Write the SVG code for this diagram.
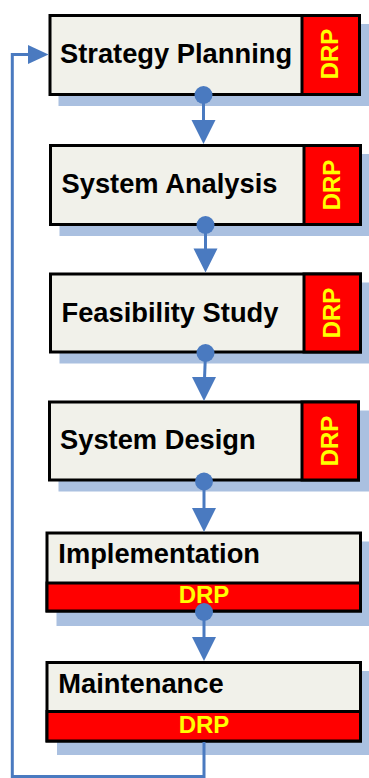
<svg xmlns="http://www.w3.org/2000/svg" width="369" height="778" viewBox="0 0 369 778">
  <defs>
    <style>
      .shadow { fill: #aac0e0; }
      .box { fill: #f1f1ea; stroke: #000; stroke-width: 3; }
      .drp { fill: #ff0000; stroke: #000; stroke-width: 3; }
      .label { font-family: "Liberation Sans", Arial, sans-serif; font-weight: bold; font-size: 27.3px; fill: #000; }
      .tag { font-family: "Liberation Sans", Arial, sans-serif; font-weight: bold; font-size: 24px; fill: #ffff00; text-anchor: middle; }
      .wire { fill: none; stroke: #4a7ac0; stroke-width: 3; }
      .head { fill: #4a7ac0; }
    </style>
  </defs>

  <!-- Stage 1 -->
  <g id="strategy-planning">
    <rect class="shadow" x="58.5" y="24" width="312.5" height="82"/>
    <rect class="box" x="50" y="15.5" width="309.5" height="79"/>
    <rect class="drp" x="302" y="15.5" width="57.5" height="79"/>
    <text class="label" x="60" y="63">Strategy Planning</text>
    <text class="tag" transform="translate(337.5,54) rotate(-90)">DRP</text>
  </g>

  <!-- Stage 2 -->
  <g id="system-analysis">
    <rect class="shadow" x="59.5" y="154" width="313" height="82"/>
    <rect class="box" x="50.5" y="145.5" width="310" height="79"/>
    <rect class="drp" x="304" y="145.5" width="56.5" height="79"/>
    <text class="label" x="61.5" y="193">System Analysis</text>
    <text class="tag" transform="translate(339.5,185) rotate(-90)">DRP</text>
  </g>

  <!-- Stage 3 -->
  <g id="feasibility-study">
    <rect class="shadow" x="59.5" y="282.5" width="313" height="81"/>
    <rect class="box" x="50.5" y="274" width="310" height="78"/>
    <rect class="drp" x="304" y="274" width="56.5" height="78"/>
    <text class="label" x="61.5" y="321.5">Feasibility Study</text>
    <text class="tag" transform="translate(339.5,313) rotate(-90)">DRP</text>
  </g>

  <!-- Stage 4 -->
  <g id="system-design">
    <rect class="shadow" x="58.5" y="410.5" width="312" height="81"/>
    <rect class="box" x="49.5" y="402" width="309" height="78"/>
    <rect class="drp" x="302" y="402" width="56.5" height="78"/>
    <text class="label" x="60" y="449">System Design</text>
    <text class="tag" transform="translate(337.5,441) rotate(-90)">DRP</text>
  </g>

  <!-- Stage 5 -->
  <g id="implementation">
    <rect class="shadow" x="56.5" y="541.5" width="316" height="84.5"/>
    <rect class="box" x="47" y="533" width="313.5" height="78"/>
    <rect class="drp" x="47" y="583" width="313.5" height="28"/>
    <text class="label" x="58.3" y="563.3">Implementation</text>
    <text class="tag" x="204" y="603">DRP</text>
  </g>

  <!-- Stage 6 -->
  <g id="maintenance">
    <rect class="shadow" x="57" y="671" width="316" height="84"/>
    <rect class="box" x="47" y="662.5" width="313.5" height="78.5"/>
    <rect class="drp" x="47" y="711.5" width="313.5" height="29.5"/>
    <text class="label" x="58.3" y="693.3">Maintenance</text>
    <text class="tag" x="204" y="733">DRP</text>
  </g>

  <!-- Connectors -->
  <g id="connectors">
    <!-- 1 to 2 -->
    <line class="wire" x1="203.5" y1="95" x2="203.5" y2="122"/>
    <circle class="head" cx="203.5" cy="95" r="9"/>
    <polygon class="head" points="191.5,120 215.5,120 203.5,144"/>
    <!-- 2 to 3 -->
    <line class="wire" x1="205.5" y1="225" x2="205.5" y2="251"/>
    <circle class="head" cx="205.5" cy="225" r="9"/>
    <polygon class="head" points="193.5,248.5 217.5,248.5 205.5,272.5"/>
    <!-- 3 to 4 -->
    <line class="wire" x1="205.5" y1="353" x2="204.5" y2="379"/>
    <circle class="head" cx="205.5" cy="353" r="9"/>
    <polygon class="head" points="192,377 216,377 204,401"/>
    <!-- 4 to 5 -->
    <line class="wire" x1="204" y1="481.5" x2="204" y2="510"/>
    <circle class="head" cx="204" cy="481.5" r="9"/>
    <polygon class="head" points="192,508 216,508 204,532"/>
    <!-- 5 to 6 -->
    <line class="wire" x1="204" y1="612" x2="204" y2="639"/>
    <circle class="head" cx="204" cy="612" r="9"/>
    <polygon class="head" points="192,637 216,637 204,661"/>
    <!-- feedback loop back to stage 1 -->
    <polyline class="wire" points="204,742 204,776.5 12.3,776.5 12.3,54.5 30,54.5"/>
    <polygon class="head" points="28,45 48.5,54.5 28,64"/>
  </g>
</svg>
